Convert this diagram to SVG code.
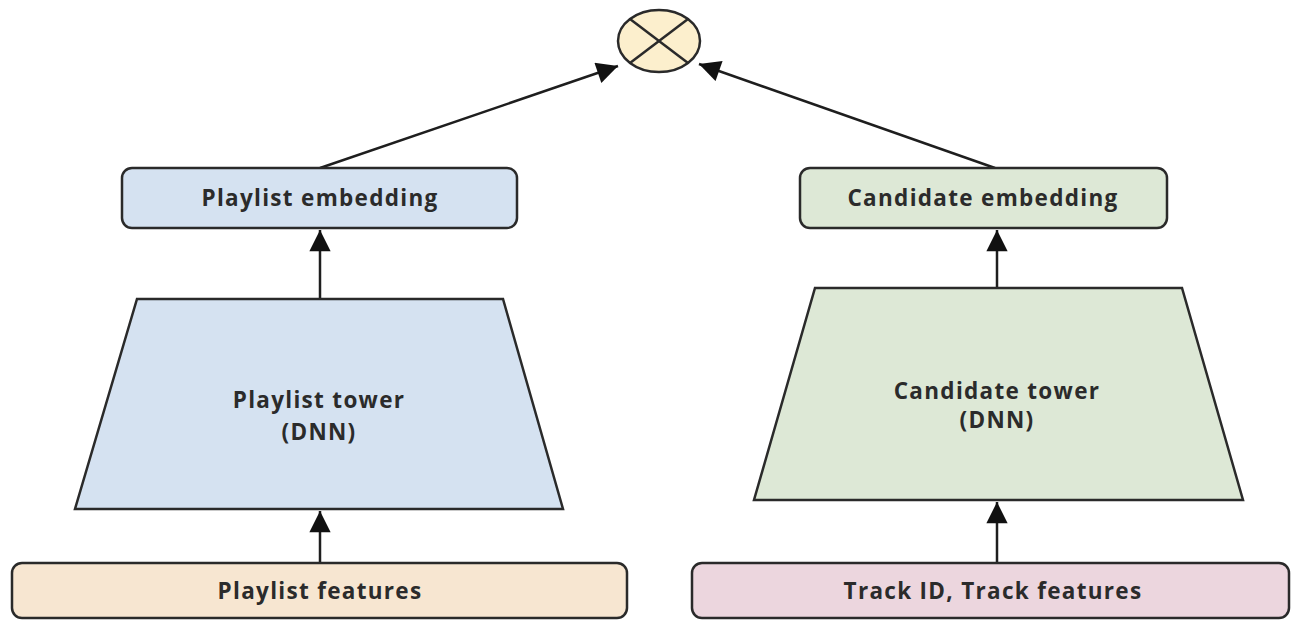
<svg xmlns="http://www.w3.org/2000/svg" width="1293" height="621" viewBox="0 0 1293 621">
  <style>
    .box { stroke: #2a2a2a; stroke-width: 2.5; }
    .lbl { font-family: "Open Sans", "Noto Sans", sans-serif; font-weight: 700; font-size: 22.5px; letter-spacing: 1.3px; fill: #2b2b2b; text-anchor: middle; dominant-baseline: central; }
    .edge { stroke: #1e1e1e; stroke-width: 2.5; fill: none; marker-end: url(#arrow); }
    .blue { fill: #d5e2f1; }
    .green { fill: #dde8d6; }
    .tan { fill: #f7e6d1; }
    .pink { fill: #ecd6de; }
  </style>
  <defs>
    <marker id="arrow" viewBox="0 0 10 10" refX="10" refY="5" markerWidth="9" markerHeight="8.5" markerUnits="strokeWidth" orient="auto">
      <path d="M0,0 L10,5 L0,10 z" fill="#111"/>
    </marker>
  </defs>
  <rect width="1293" height="621" fill="#ffffff"/>

  <g id="connectors">
    <line class="edge" x1="320" y1="563" x2="320" y2="511"/>
    <line class="edge" x1="320" y1="298" x2="320" y2="230"/>
    <line class="edge" x1="320" y1="168" x2="618" y2="66"/>
    <line class="edge" x1="997" y1="563" x2="997" y2="502"/>
    <line class="edge" x1="997" y1="288" x2="997" y2="230"/>
    <line class="edge" x1="995" y1="168" x2="699" y2="64"/>
  </g>

  <g id="product">
    <ellipse class="box" cx="659" cy="41" rx="41" ry="31" fill="#fcefcd"/>
    <line x1="630" y1="19" x2="688" y2="63" stroke="#2a2a2a" stroke-width="2.5"/>
    <line x1="688" y1="19" x2="630" y2="63" stroke="#2a2a2a" stroke-width="2.5"/>
  </g>

  <g id="playlist-embedding">
    <rect class="box blue" x="122" y="168" width="395" height="60" rx="10"/>
    <text class="lbl" x="320" y="197">Playlist embedding</text>
  </g>

  <g id="playlist-tower">
    <polygon class="box blue" points="137,299 503,299 563,509 75,509"/>
    <text class="lbl" x="319" y="399">Playlist tower</text>
    <text class="lbl" x="319" y="431">(DNN)</text>
  </g>

  <g id="playlist-features">
    <rect class="box tan" x="12" y="563" width="615" height="55" rx="10"/>
    <text class="lbl" x="320" y="590">Playlist features</text>
  </g>

  <g id="candidate-embedding">
    <rect class="box green" x="800" y="168" width="367" height="60" rx="10"/>
    <text class="lbl" x="983" y="197">Candidate embedding</text>
  </g>

  <g id="candidate-tower">
    <polygon class="box green" points="815,288 1182,288 1243,500 754,500"/>
    <text class="lbl" x="997" y="390">Candidate tower</text>
    <text class="lbl" x="997" y="419">(DNN)</text>
  </g>

  <g id="track-features">
    <rect class="box pink" x="692" y="563" width="597" height="55" rx="10"/>
    <text class="lbl" x="993" y="590">Track ID, Track features</text>
  </g>
</svg>
